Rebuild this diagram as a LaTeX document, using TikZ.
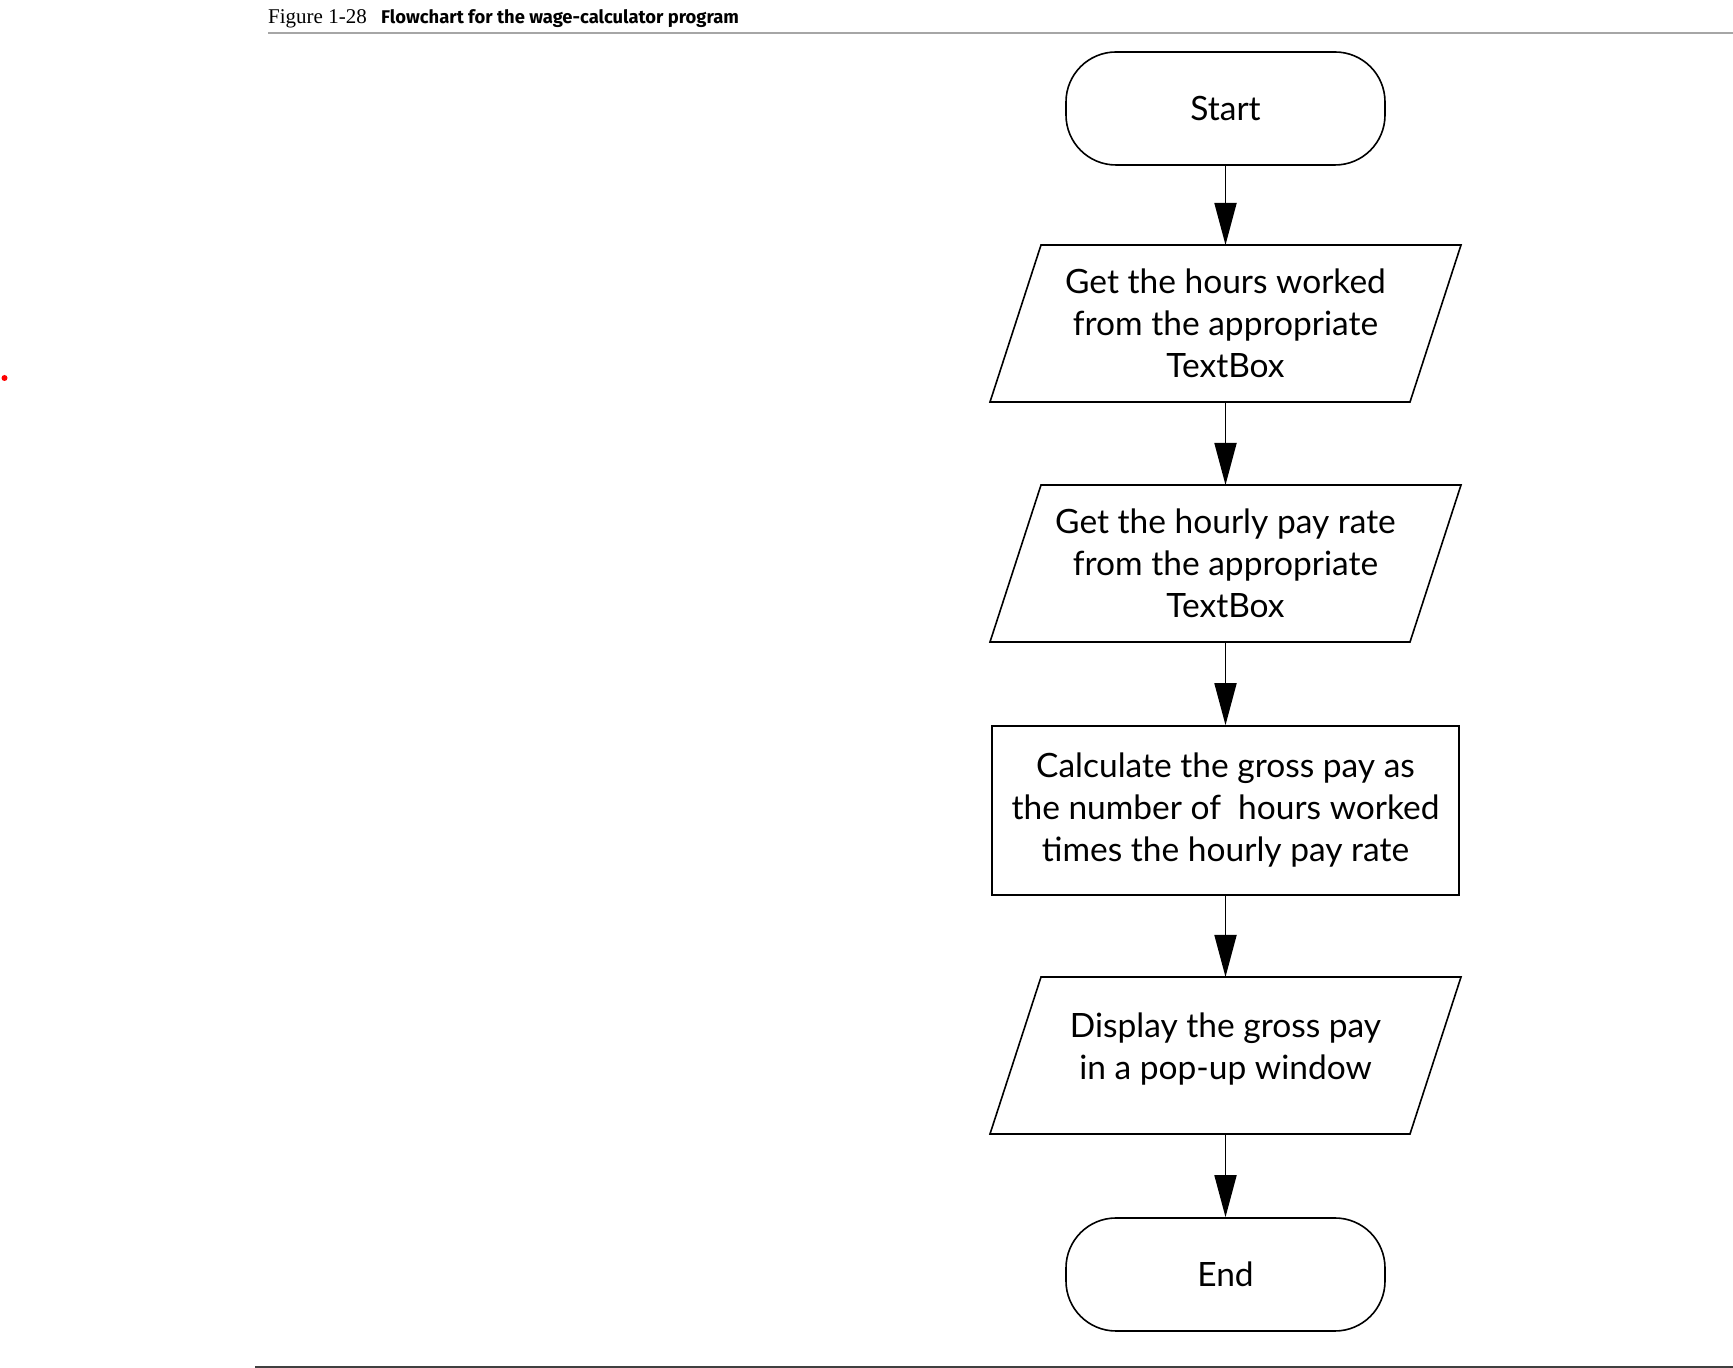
\documentclass[tikz,border=0pt]{standalone}
\usepackage{fontspec}
\setmainfont{Lato}
\newfontfamily\capserif{Liberation Serif}
\newfontfamily\capsans{Fira Sans}
\usetikzlibrary{shapes,arrows.meta,positioning}

\tikzset{
    terminal/.style={draw, line width=1.6pt, rounded corners=50pt, minimum width=319pt, minimum height=113pt, font=\fontsize{33.5}{42}\selectfont},
    io/.style={rectangle, outer sep=0pt, minimum width=420pt, minimum height=157pt, align=center, font=\fontsize{33.5}{42}\selectfont},
    process/.style={draw, rectangle, minimum width=467pt, minimum height=169pt, line width=1.6pt, align=center, font=\fontsize{33.5}{42}\selectfont},
    flowarrow/.style={line width=1.8pt, -{Triangle[length=42pt,width=22pt]}}
}

\begin{document}
\begin{tikzpicture}[x=1pt,y=1pt]
    \useasboundingbox (0,0) rectangle (1733,1368);
    % Caption and rules
    \node[anchor=base west, inner sep=0pt, font=\capserif\fontsize{21}{24}\selectfont] (fig) at (268,1344) {Figure 1-28};
    \node[anchor=base west, inner sep=0pt, font=\capsans\bfseries\fontsize{18.4}{21}\selectfont] (cap) at (381,1344) {Flowchart for the wage-calculator program};
    \draw[line width=1.6pt, gray!70] (268,1335) -- (1733,1335);
    \draw[line width=2pt, black!75] (255,1) -- (1733,1);
    \fill[red] (4.5,990) circle(3);
    % Flowchart
    \node[terminal] (start) at (1225.5,1259.5) {Start};
    \node[io] (hours) at (1225.5,1044.5) {Get the hours worked\\from the appropriate\\TextBox};
    \node[io] (rate) at (1225.5,804.5) {Get the hourly pay rate\\from the appropriate\\TextBox};
    \node[process] (calc) at (1225.5,557.5) {Calculate the gross pay as\\the number of\ \ hours worked\\times the hourly pay rate};
    \node[io] (show) at (1225.5,312.5) {Display the gross pay\\in a pop-up window\\[-24pt]};
    \node[terminal] (end) at (1225.5,93.5) {End};
    % Parallelograms round the input/output steps
    \foreach \n in {hours, rate, show} {
        \draw[line width=1.6pt] ([xshift=25.5pt]\n.north west) -- ([xshift=25.5pt]\n.north east)
            -- ([xshift=-25.5pt]\n.south east) -- ([xshift=-25.5pt]\n.south west) -- cycle;
    }
    % Arrows
    \foreach \a/\b in {start/hours, hours/rate, rate/calc, calc/show, show/end} {
        \draw[flowarrow] (\a.south) -- (\b.north);
    }
\end{tikzpicture}
\end{document}
